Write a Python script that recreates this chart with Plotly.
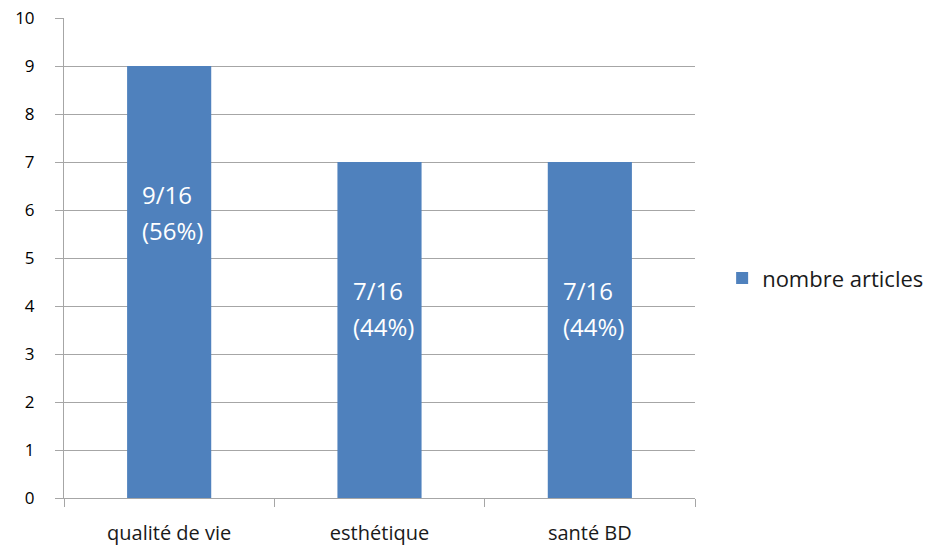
import plotly.graph_objects as go

categories = ["qualité de vie", "esthétique", "santé BD"]
values = [9, 7, 7]
label_fractions = ["9/16", "7/16", "7/16"]
label_percents = ["(56%)", "(44%)", "(44%)"]
series_name = "nombre articles"
y_ticks = list(range(0, 11))

FONT = "Open Sans"
BAR = "#4F81BD"
GRID = "#A6A6A6"

fig = go.Figure()
fig.add_trace(go.Bar(
    x=categories, y=values, name=series_name,
    marker=dict(color=BAR, line=dict(width=0)),
    showlegend=True,
))

for c, v, f, p in zip(categories, values, label_fractions, label_percents):
    for txt, dy in ((f, 18), (p, -18)):
        fig.add_annotation(
            x=c, y=v - 3.06, text=txt, showarrow=False, xref="x", yref="y",
            font=dict(family=FONT, size=24, color="white"),
            xanchor="left", yanchor="middle", xshift=-29, yshift=dy,
        )

fig.update_layout(
    width=930, height=546,
    margin=dict(l=64, r=235, t=18, b=48, autoexpand=False),
    paper_bgcolor="white", plot_bgcolor="white",
    bargap=0.6,
    font=dict(family=FONT, size=17, color="#000000"),
    legend=dict(x=1.043, y=0.458, xanchor="left", yanchor="middle",
                font=dict(family=FONT, size=22, color="#1a1a1a"),
                itemwidth=30, tracegroupgap=0),
)
fig.update_yaxes(
    range=[0, 10], tickvals=y_ticks, showgrid=True, gridcolor=GRID, gridwidth=1,
    showline=True, linecolor=GRID, linewidth=1,
    ticks="outside", ticklen=8, tickcolor=GRID,
    ticklabelstandoff=17, zeroline=False, automargin=False,
    tickfont=dict(family=FONT, size=17, color="#000"),
)
fig.update_xaxes(
    showline=True, linecolor=GRID, linewidth=1,
    ticks="outside", ticklen=8, tickcolor=GRID, tickson="boundaries",
    ticklabelstandoff=17, showgrid=False, automargin=False,
    tickfont=dict(family=FONT, size=20, color="#1a1a1a"),
)

fig.write_html(
    "out.html",
    config={"displayModeBar": False},
    post_script="document.body.style.margin='0';document.body.style.overflow='hidden';",
)
